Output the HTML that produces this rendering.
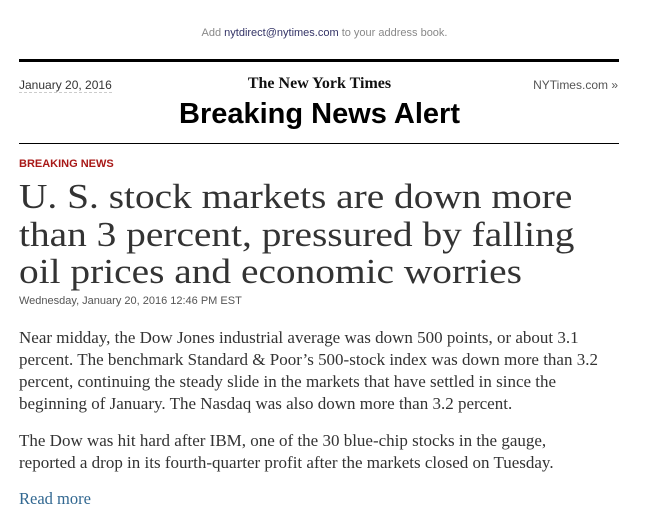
<!DOCTYPE html>
<html><head><meta charset="utf-8"><style>
body{margin:0;background:#fff;width:649px;height:499px;overflow:hidden;font-family:"Liberation Sans",sans-serif;}
.abs{position:absolute;white-space:nowrap;}
.serif{font-family:"Liberation Serif",serif;}
</style></head><body>
<div class="abs" style="left:0;width:649px;top:27px;text-align:center;font-size:11px;color:#888;">Add <span style="color:#336;">nytdirect@nytimes.com</span> to your address book.</div>
<div class="abs" style="left:19px;width:600px;top:59px;height:3px;background:#000;"></div>
<div class="abs" style="left:19px;top:78px;font-size:12px;color:#333;border-bottom:1px dashed #ccc;">January 20, 2016</div>
<div class="abs serif" style="left:0;width:639px;top:75px;text-align:center;font-size:16px;font-weight:bold;color:#111;">The New York Times</div>
<div class="abs" style="right:31px;top:78px;font-size:12px;color:#555;">NYTimes.com »</div>
<div class="abs" style="left:0;width:639px;top:98px;text-align:center;font-size:29px;font-weight:bold;color:#000;">Breaking News Alert</div>
<div class="abs" style="left:19px;width:600px;top:143px;height:1px;background:#000;"></div>
<div class="abs" style="left:19px;top:158px;font-size:11px;font-weight:bold;color:#a81817;">BREAKING NEWS</div>
<div class="abs serif" style="left:19px;top:178px;font-size:35px;line-height:37.5px;color:#333;transform:scaleX(1.125);transform-origin:0 0;">U. S. stock markets are down more<br>than 3 percent, pressured by falling<br>oil prices and economic worries</div>
<div class="abs" style="left:19px;top:295px;font-size:11px;color:#555;">Wednesday, January 20, 2016 12:46 PM EST</div>
<div class="abs serif" style="left:19px;top:327px;font-size:16.5px;line-height:22px;color:#333;transform:scaleX(1.03);transform-origin:0 0;">Near midday, the Dow Jones industrial average was down 500 points, or about 3.1<br>percent. The benchmark Standard &amp; Poor’s 500-stock index was down more than 3.2<br>percent, continuing the steady slide in the markets that have settled in since the<br>beginning of January. The Nasdaq was also down more than 3.2 percent.</div>
<div class="abs serif" style="left:19px;top:430px;font-size:16.5px;line-height:22px;color:#333;transform:scaleX(1.03);transform-origin:0 0;">The Dow was hit hard after IBM, one of the 30 blue-chip stocks in the gauge,<br>reported a drop in its fourth-quarter profit after the markets closed on Tuesday.</div>
<div class="abs serif" style="left:19px;top:489px;font-size:16.5px;color:#326891;">Read more</div>
</body></html>
